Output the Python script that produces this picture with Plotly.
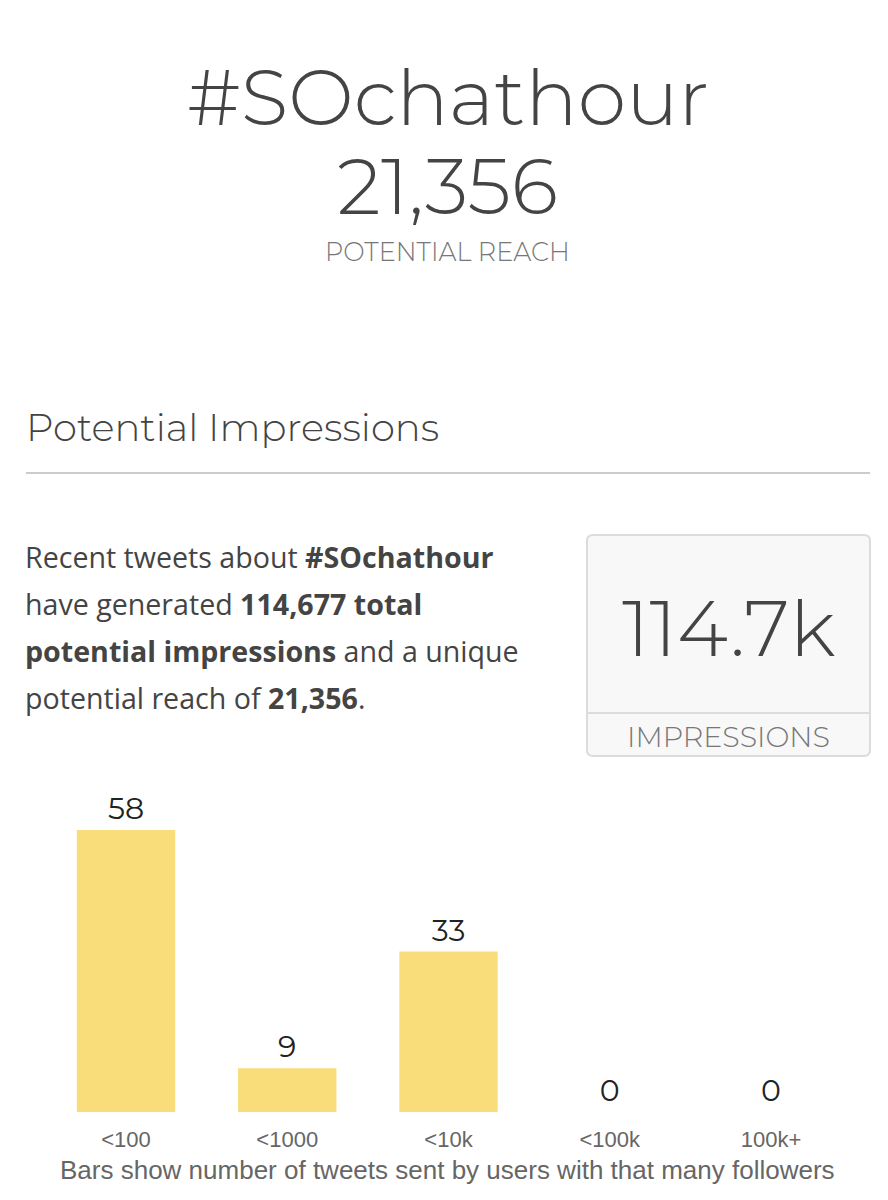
import plotly.graph_objects as go

# ---- data ----
categories = ["<100", "<1000", "<10k", "<100k", "100k+"]
tweet_counts = [58, 9, 33, 0, 0]
hashtag = "#SOchathour"
reach_text = "21,356"
impressions_total = "114,677"
impressions_short = "114.7k"

W, H = 888, 1200
def px(x): return x / W
def py(y): return 1 - y / H

TITLE_FONT = "Montserrat, Inter, 'Noto Sans', sans-serif"
BODY_FONT = "'Open Sans', 'Noto Sans', sans-serif"
NARROW_FONT = "'Liberation Sans Narrow', 'Arial Narrow', 'Liberation Sans', Arial, sans-serif"

fig = go.Figure()
fig.add_trace(go.Bar(
    x=categories, y=tweet_counts,
    marker=dict(color="#f8dd7a", line=dict(width=0)),
    texttemplate="%{y}", textposition="outside",
    textfont=dict(family=TITLE_FONT, size=30, color="#222"),
    cliponaxis=False, hoverinfo="skip",
))

annotations = [
    dict(x=px(448), y=py(97), text=hashtag, font=dict(family=TITLE_FONT, size=78, color="#444", weight=300)),
    dict(x=px(448), y=py(186), text=reach_text, font=dict(family=TITLE_FONT, size=78, color="#444", weight=300)),
    dict(x=px(447), y=py(251), text="POTENTIAL REACH", font=dict(family=TITLE_FONT, size=25.5, color="#777", weight=300)),
    dict(x=px(24), y=py(427), text="Potential Impressions", xanchor="left",
         font=dict(family=TITLE_FONT, size=38.5, color="#444", weight=300)),
    dict(x=px(728), y=py(628), text=impressions_short, font=dict(family=TITLE_FONT, size=78, color="#444", weight=300)),
    dict(x=px(728), y=py(736), text="IMPRESSIONS", font=dict(family=TITLE_FONT, size=28.5, color="#777", weight=300)),
    dict(x=px(448), y=py(1170), text="Bars show number of tweets sent by users with that many followers",
         font=dict(family=NARROW_FONT, size=26, color="#666")),
]
para_lines = [
    "Recent tweets about <b>" + hashtag + "</b>",
    "have generated <b>" + impressions_total + " total</b>",
    "<b>potential impressions</b> and a unique",
    "potential reach of <b>" + reach_text + "</b>.",
]
for i, line in enumerate(para_lines):
    annotations.append(dict(x=px(23), y=py(556 + i * 47.3), text=line, xanchor="left",
                            font=dict(family=BODY_FONT, size=28.6, color="#444")))
for a in annotations:
    a.update(xref="paper", yref="paper", showarrow=False, yanchor=a.get("yanchor", "middle"))
    a.setdefault("xanchor", "center")

# rounded box (pixel path, y axis points up)
def rounded_path(w, h, rad):
    pts = [
        f"M {rad} 0", f"L {w-rad} 0", f"Q {w} 0 {w} {-rad}", f"L {w} {-(h-rad)}",
        f"Q {w} {-h} {w-rad} {-h}", f"L {rad} {-h}", f"Q 0 {-h} 0 {-(h-rad)}",
        f"L 0 {-rad}", f"Q 0 0 {rad} 0", "Z",
    ]
    return " ".join(pts)

shapes = [
    dict(type="line", xref="paper", yref="paper", x0=px(26), x1=px(870), y0=py(473), y1=py(473),
         line=dict(color="#cccccc", width=2)),
    dict(type="path", xref="paper", yref="paper", xsizemode="pixel", ysizemode="pixel",
         xanchor=px(587), yanchor=py(535), path=rounded_path(283, 221, 6),
         fillcolor="#f8f8f8", line=dict(color="#dcdcdc", width=2), layer="below"),
    dict(type="line", xref="paper", yref="paper", x0=px(588), x1=px(869), y0=py(713), y1=py(713),
         line=dict(color="#dcdcdc", width=2)),
]

fig.update_layout(
    width=W, height=H, margin=dict(l=0, r=0, t=0, b=0),
    paper_bgcolor="white", plot_bgcolor="white",
    showlegend=False, bargap=0.39,
    annotations=annotations, shapes=shapes,
    xaxis=dict(domain=[px(45.4), px(851.6)], showgrid=False, zeroline=False, showline=False,
               ticks="", ticklabelstandoff=12,
               tickfont=dict(family=NARROW_FONT, size=22, color="#666")),
    yaxis=dict(domain=[py(1112), py(780)], range=[0, (1112 - 780) / 4.862], visible=False),
)

fig.write_html("out.html", config={"displayModeBar": False},
               post_script="document.body.style.margin='0';document.body.style.overflow='hidden';")
